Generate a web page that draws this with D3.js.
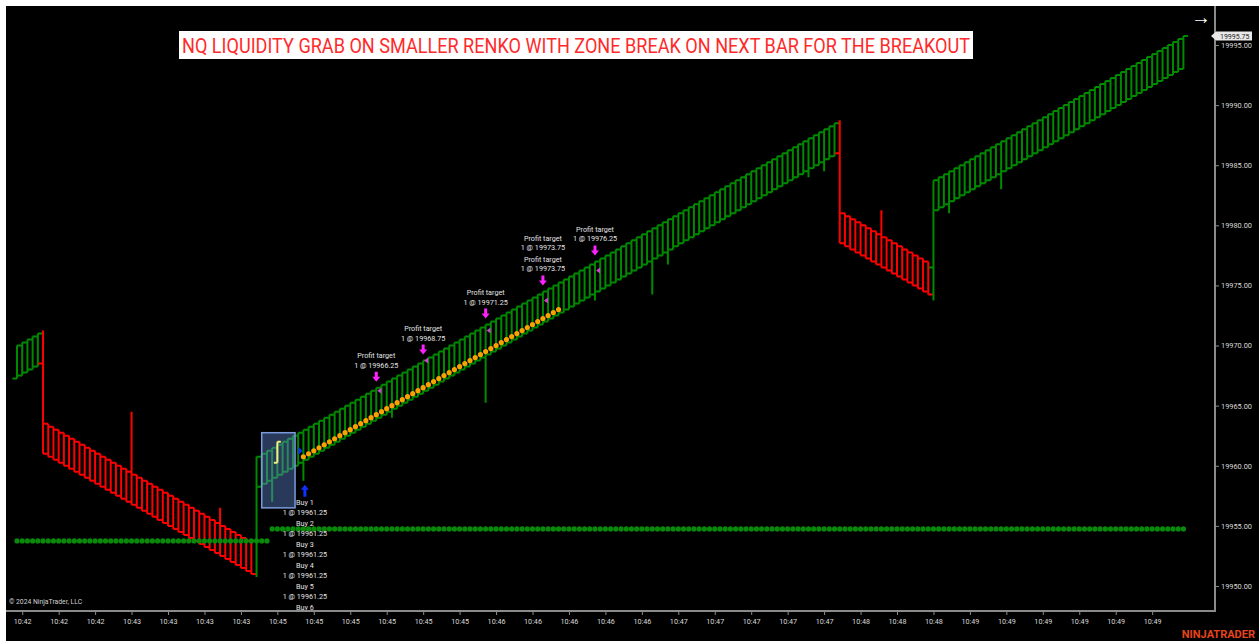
<!DOCTYPE html>
<html><head><meta charset="utf-8">
<script src="https://cdn.jsdelivr.net/npm/d3@7"></script>
<style>
body{margin:0;background:#fff;}
text{font-family:Roboto,"Open Sans",sans-serif;}
</style></head><body>
<svg id="chart" width="1259" height="641"></svg>
<script>
// renko closes, one per bar
const closes = [
  19970.00, 19970.25, 19970.50, 19970.75, 19971.00,
  19961.00,
  19960.75, 19960.50, 19960.25, 19960.00, 19959.75, 19959.50, 19959.25, 19959.00,
  19958.75, 19958.50, 19958.25, 19958.00, 19957.75, 19957.50, 19957.25, 19957.00,
  19956.75, 19956.50, 19956.25, 19956.00, 19955.75, 19955.50, 19955.25, 19955.00,
  19954.75, 19954.50, 19954.25, 19954.00, 19953.75, 19953.50, 19953.25, 19953.00,
  19952.75, 19952.50, 19952.25, 19952.00, 19951.75, 19951.50, 19951.25, 19951.00,
  19960.75,
  19961.00, 19961.25, 19961.50, 19961.75, 19962.00, 19962.25, 19962.50, 19962.75,
  19963.00, 19963.25, 19963.50, 19963.75, 19964.00, 19964.25, 19964.50, 19964.75,
  19965.00, 19965.25, 19965.50, 19965.75, 19966.00, 19966.25, 19966.50, 19966.75,
  19967.00, 19967.25, 19967.50, 19967.75, 19968.00, 19968.25, 19968.50, 19968.75,
  19969.00, 19969.25, 19969.50, 19969.75, 19970.00, 19970.25, 19970.50, 19970.75,
  19971.00, 19971.25, 19971.50, 19971.75, 19972.00, 19972.25, 19972.50, 19972.75,
  19973.00, 19973.25, 19973.50, 19973.75, 19974.00, 19974.25, 19974.50, 19974.75,
  19975.00, 19975.25, 19975.50, 19975.75, 19976.00, 19976.25, 19976.50, 19976.75,
  19977.00, 19977.25, 19977.50, 19977.75, 19978.00, 19978.25, 19978.50, 19978.75,
  19979.00, 19979.25, 19979.50, 19979.75, 19980.00, 19980.25, 19980.50, 19980.75,
  19981.00, 19981.25, 19981.50, 19981.75, 19982.00, 19982.25, 19982.50, 19982.75,
  19983.00, 19983.25, 19983.50, 19983.75, 19984.00, 19984.25, 19984.50, 19984.75,
  19985.00, 19985.25, 19985.50, 19985.75, 19986.00, 19986.25, 19986.50, 19986.75,
  19987.00, 19987.25, 19987.50, 19987.75, 19988.00, 19988.25, 19988.50,
  19978.50,
  19978.25, 19978.00, 19977.75, 19977.50, 19977.25, 19977.00, 19976.75, 19976.50,
  19976.25, 19976.00, 19975.75, 19975.50, 19975.25, 19975.00, 19974.75, 19974.50,
  19974.25,
  19983.75,
  19984.00, 19984.25, 19984.50, 19984.75, 19985.00, 19985.25, 19985.50, 19985.75,
  19986.00, 19986.25, 19986.50, 19986.75, 19987.00, 19987.25, 19987.50, 19987.75,
  19988.00, 19988.25, 19988.50, 19988.75, 19989.00, 19989.25, 19989.50, 19989.75,
  19990.00, 19990.25, 19990.50, 19990.75, 19991.00, 19991.25, 19991.50, 19991.75,
  19992.00, 19992.25, 19992.50, 19992.75, 19993.00, 19993.25, 19993.50, 19993.75,
  19994.00, 19994.25, 19994.50, 19994.75, 19995.00, 19995.25, 19995.50, 19995.75
];
const brick = 2.75;

// reversal bars (open / high / low differ from a plain brick)
const reversalIndex = [5, 46, 158, 176];
const reversalOpen = [19968.50, 19953.75, 19986.00, 19976.50];
const reversalHigh = [19971.25, 19960.75, 19988.75, 19983.75];
const reversalLow  = [19961.00, 19950.75, 19978.50, 19973.75];

// bars with a tail beyond the brick
const wickIndex = [22, 39, 49, 55, 72, 90, 111, 122, 125, 152, 155, 166, 179, 189];
const wickPrice = [19964.50, 19956.50, 19957.00, 19958.75, 19964.00, 19965.25, 19973.75,
                   19974.25, 19976.75, 19984.00, 19984.50, 19981.25, 19981.00, 19983.00];

// zone dots
const zoneLevel = [19953.75, 19954.75];
const zoneFrom = [0, 49];
const zoneTo = [48, 224];

// trailing stop dots
const trailFrom = 55;
const trailValues = [
  19960.75,
  19961.00, 19961.25, 19961.50, 19961.75, 19962.00, 19962.25, 19962.50, 19962.75,
  19963.00, 19963.25, 19963.50, 19963.75, 19964.00, 19964.25, 19964.50, 19964.75,
  19965.00, 19965.25, 19965.50, 19965.75, 19966.00, 19966.25, 19966.50, 19966.75,
  19967.00, 19967.25, 19967.50, 19967.75, 19968.00, 19968.25, 19968.50, 19968.75,
  19969.00, 19969.25, 19969.50, 19969.75, 19970.00, 19970.25, 19970.50, 19970.75,
  19971.00, 19971.25, 19971.50, 19971.75, 19972.00, 19972.25, 19972.50, 19972.75,
  19973.00
];

// executions
const entryIndex = 55;
const entryPrice = 19961.25;
const entryCount = 6;
const targetIndex = [69, 78, 90, 101, 111];
const targetPrice = [19966.25, 19968.75, 19971.25, 19973.75, 19976.25];
const targetCount = [1, 1, 1, 2, 1];

// zone rectangle and the marked liquidity-grab bar
const boxFrom = 47, boxTo = 53.4;
const boxTop = 19962.75, boxBottom = 19956.50;
const markIndex = 50;
const markOpen = 19960.25, markClose = 19962.00;

const priceTicks = [19950, 19955, 19960, 19965, 19970, 19975, 19980, 19985, 19990, 19995];
const lastPrice = 19995.75;
const timeLabels = ["10:42","10:42","10:42","10:43","10:43","10:43","10:43",
  "10:45","10:45","10:45","10:45","10:45","10:45",
  "10:46","10:46","10:46","10:46","10:46",
  "10:47","10:47","10:47","10:47","10:47",
  "10:48","10:48","10:48",
  "10:49","10:49","10:49","10:49","10:49","10:49"];
const timeTickFirst = 1, timeTickStep = 7;

const title = "NQ LIQUIDITY GRAB ON SMALLER RENKO WITH ZONE BREAK ON NEXT BAR FOR THE BREAKOUT";

// ---- build bars
const bars = closes.map((c, i) => {
  const up = i === 0 ? true : c > closes[i - 1];
  let open = up ? c - brick : c + brick;
  let high = Math.max(open, c), low = Math.min(open, c);
  const r = reversalIndex.indexOf(i);
  if (r >= 0) { open = reversalOpen[r]; high = reversalHigh[r]; low = reversalLow[r]; }
  const w = wickIndex.indexOf(i);
  if (w >= 0) { high = Math.max(high, wickPrice[w]); low = Math.min(low, wickPrice[w]); }
  return {i, open, high, low, close: c, up};
});

const svg = d3.select('#chart');
const plotLeft = 6, plotTop = 6, plotRight = 1215, plotBottom = 611;

const x = d3.scaleLinear().domain([0, closes.length - 1]).range([17, 1183.4]);
const y = d3.scaleLinear().domain([19950, 19995]).range([586, 45]);
const step = x(1) - x(0);

svg.append('rect').attr('x', plotLeft).attr('y', plotTop)
  .attr('width', 1259 - plotLeft).attr('height', 641 - plotTop).attr('fill', '#000');

svg.append('clipPath').attr('id', 'plotclip').append('rect')
  .attr('x', plotLeft).attr('y', plotTop)
  .attr('width', plotRight - plotLeft).attr('height', plotBottom - plotTop);

const plot = svg.append('g').attr('clip-path', 'url(#plotclip)');

const GREEN = '#008a00', RED = '#ff0000';
const tw = step - 0.6;

function barPath(d) {
  const cx = x(d.i);
  return `M${cx},${y(d.high)}V${y(d.low)}M${cx - tw},${y(d.open)}H${cx}M${cx},${y(d.close)}H${cx + tw}`;
}

plot.append('g').selectAll('path').data(bars).join('path')
  .attr('d', barPath)
  .attr('fill', 'none')
  .attr('stroke', d => d.up ? GREEN : RED)
  .attr('stroke-width', 2);

// zone dots
zoneLevel.forEach((lvl, k) => {
  const idx = d3.range(zoneFrom[k], zoneTo[k] + 1);
  plot.append('g').selectAll('circle').data(idx).join('circle')
    .attr('cx', i => x(i)).attr('cy', y(lvl)).attr('r', 2.6)
    .attr('fill', '#0a8a0a');
});

// trailing dots
plot.append('g').selectAll('circle').data(trailValues).join('circle')
  .attr('cx', (v, k) => x(trailFrom + k)).attr('cy', v => y(v)).attr('r', 2.6)
  .attr('fill', '#f5a300');

// zone box
plot.append('rect')
  .attr('x', x(boxFrom)).attr('y', y(boxTop))
  .attr('width', x(boxTo) - x(boxFrom)).attr('height', y(boxBottom) - y(boxTop))
  .attr('fill', 'rgba(95,135,215,0.42)')
  .attr('stroke', '#7b9bdc').attr('stroke-width', 1.5);

// marked bar
const mx = x(markIndex);
plot.append('path')
  .attr('d', `M${mx},${y(markClose)}V${y(markOpen)}M${mx - 3.5},${y(markOpen)}H${mx}M${mx},${y(markClose)}H${mx + 3.5}`)
  .attr('fill', 'none').attr('stroke', '#f0f080').attr('stroke-width', 2);

// execution markers
const labelColor = '#e4e4e4';
const ex = x(entryIndex);
plot.append('path')
  .attr('d', `M${ex - 5},${y(entryPrice) - 4}L${ex - 1},${y(entryPrice)}L${ex - 5},${y(entryPrice) + 4}Z`)
  .attr('fill', '#1030ff');
const ay = y(bars[entryIndex].low) + 4;
plot.append('path')
  .attr('d', `M${ex + 1.5},${ay}l-4,5h2.5v7h3v-7h2.5Z`)
  .attr('fill', '#1030ff');
const buy = plot.append('g').attr('font-size', 7.2).attr('fill', labelColor).attr('text-anchor', 'middle');
d3.range(entryCount).forEach(k => {
  const top = ay + 20.5 + k * 21;
  buy.append('text').attr('x', ex + 1.5).attr('y', top).text(`Buy ${k + 1}`);
  if (top + 9.5 < plotBottom) {
    buy.append('text').attr('x', ex + 1.5).attr('y', top + 9.5).text(`1 @ ${entryPrice.toFixed(2)}`);
  }
});

targetIndex.forEach((ti, k) => {
  const tx = x(ti);
  const tip = y(bars[ti].high) - 6;
  plot.append('path')
    .attr('d', `M${tx},${tip}l-4,-5h2.5v-5h3v5h2.5Z`)
    .attr('fill', '#ff20ff');
  plot.append('path')
    .attr('d', `M${tx + 5},${y(targetPrice[k]) - 3}L${tx + 1},${y(targetPrice[k])}L${tx + 5},${y(targetPrice[k]) + 3}Z`)
    .attr('fill', '#d040d0');
  const g = plot.append('g').attr('font-size', 7.2).attr('fill', labelColor).attr('text-anchor', 'middle');
  d3.range(targetCount[k]).forEach(n => {
    const base = tip - 14 - n * 21;
    g.append('text').attr('x', tx).attr('y', base - 9.3).text('Profit target');
    g.append('text').attr('x', tx).attr('y', base).text(`1 @ ${targetPrice[k].toFixed(2)}`);
  });
});

// axes
const axisColor = '#8a8a8a';
const yAxis = d3.axisRight(y).tickValues(priceTicks).tickFormat(d3.format('.2f')).tickSize(4).tickPadding(2);
const gy = svg.append('g').attr('transform', `translate(${plotRight},0)`).call(yAxis);
gy.select('.domain').remove();
gy.selectAll('line').attr('stroke', axisColor);
gy.selectAll('text').attr('fill', '#d8d8d8').attr('font-size', 7.4)
  .attr('font-family', 'Roboto,"Open Sans",sans-serif');
svg.append('line').attr('x1', plotRight).attr('x2', plotRight).attr('y1', plotTop).attr('y2', plotBottom)
  .attr('stroke', axisColor).attr('stroke-width', 2);

const timeTicks = timeLabels.map((t, k) => timeTickFirst + k * timeTickStep);
const xAxis = d3.axisBottom(x).tickValues(timeTicks)
  .tickFormat((d, k) => timeLabels[k]).tickSize(4).tickPadding(4);
const gx = svg.append('g').attr('transform', `translate(0,${plotBottom})`).call(xAxis);
gx.select('.domain').remove();
gx.selectAll('line').attr('stroke', axisColor);
gx.selectAll('text').attr('fill', '#d8d8d8').attr('font-size', 7.2)
  .attr('font-family', 'Roboto,"Open Sans",sans-serif');
svg.append('line').attr('x1', plotLeft).attr('x2', plotRight + 1).attr('y1', plotBottom).attr('y2', plotBottom)
  .attr('stroke', axisColor).attr('stroke-width', 2);

// last price marker
const ly = y(lastPrice);
svg.append('path')
  .attr('d', `M${plotRight - 4},${ly}L${plotRight + 1},${ly - 4.5}H${plotRight + 37}V${ly + 4.5}H${plotRight + 1}Z`)
  .attr('fill', '#e8e8e8');
svg.append('text').attr('x', plotRight + 5).attr('y', ly + 2.8).attr('font-size', 7)
  .attr('fill', '#222').text(lastPrice.toFixed(2));

// title
svg.append('rect').attr('x', 179).attr('y', 31).attr('width', 794).attr('height', 28).attr('fill', '#fff');
svg.append('text').attr('x', 182).attr('y', 53.3).attr('font-size', 19.5)
  .attr('font-family', '"Open Sans","Noto Sans",sans-serif')
  .attr('textLength', 788).attr('lengthAdjust', 'spacingAndGlyphs')
  .attr('fill', '#ff2a2a').text(title);

// misc labels
svg.append('text').attr('x', 1191).attr('y', 24).attr('font-size', 20).attr('fill', '#fff').text('→');
svg.append('text').attr('x', 9).attr('y', 604).attr('font-size', 6.8).attr('fill', '#d0d0d0').text('© 2024 NinjaTrader, LLC');
svg.append('text').attr('x', 1255).attr('y', 638).attr('text-anchor', 'end').attr('font-size', 11)
  .attr('font-weight', 'bold').attr('fill', '#e8441a').text('NINJATRADER');
</script></body></html>
